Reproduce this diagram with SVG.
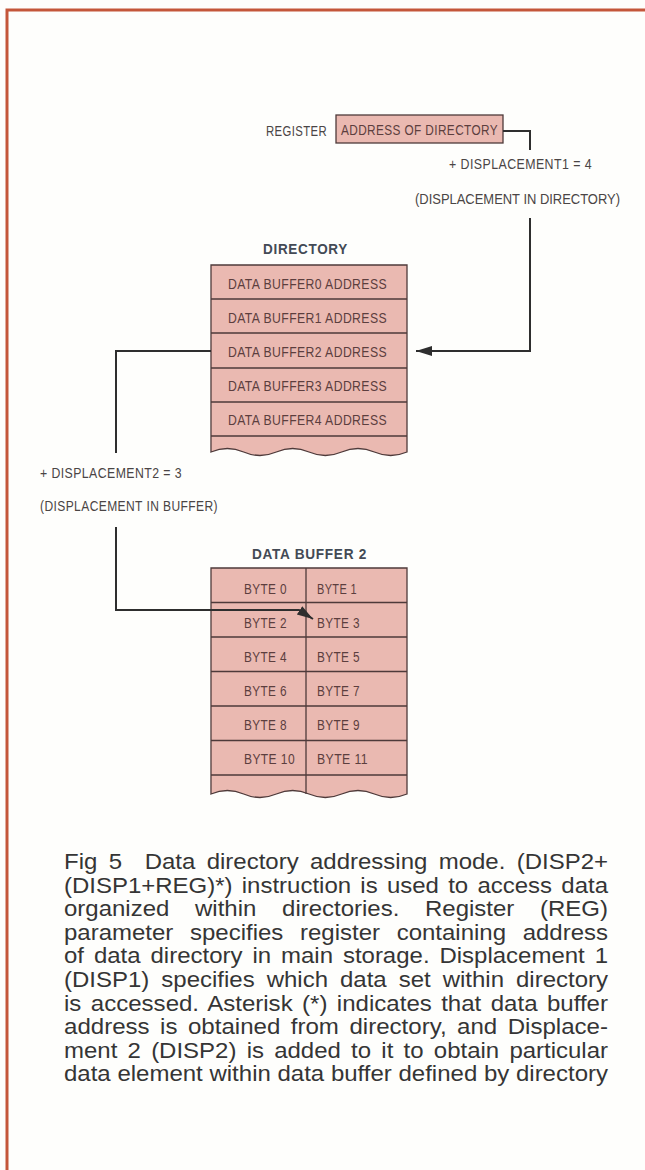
<svg xmlns="http://www.w3.org/2000/svg" width="645" height="1170" viewBox="0 0 645 1170">
<defs>
<style>
.lbl{font-family:"Liberation Sans Narrow","Liberation Sans",Arial,sans-serif;font-size:14.5px;fill:#4a4545;letter-spacing:0.5px}
.cell{font-family:"Liberation Sans Narrow","Liberation Sans",Arial,sans-serif;font-size:15px;fill:#5c3e3e;letter-spacing:0.5px}
.ttl{font-family:"Liberation Sans Narrow","Liberation Sans",Arial,sans-serif;font-size:15.5px;font-weight:bold;fill:#434a55;letter-spacing:0.8px}
.box{fill:#eab9b1;stroke:#4e3a3a;stroke-width:1.3}
.ln{fill:none;stroke:#4e3a3a;stroke-width:1.3}
.conn{fill:none;stroke:#2e2e2e;stroke-width:2}
.cap{font-family:"Liberation Sans",Arial,sans-serif;font-size:22px;fill:#353535}
</style>
<marker id="ah" markerUnits="userSpaceOnUse" markerWidth="17" markerHeight="11" refX="16" refY="5" orient="auto">
<path d="M0,0 L16,5 L0,10 Z" fill="#2e2e2e"/>
</marker>
</defs>
<rect x="0" y="0" width="645" height="1170" fill="#fefefc"/>
<path d="M7,1170 V10 H645" fill="none" stroke="#c4563a" stroke-width="3"/>

<g id="register">
<text class="lbl" x="266" y="135.5" textLength="61" lengthAdjust="spacingAndGlyphs">REGISTER</text>
<rect class="box" x="336" y="115" width="167" height="28"/>
<text class="cell" x="341" y="135" textLength="157" lengthAdjust="spacingAndGlyphs">ADDRESS OF DIRECTORY</text>
</g>

<g id="disp1-label">
<text class="lbl" x="449" y="168.5" textLength="143" lengthAdjust="spacingAndGlyphs">+ DISPLACEMENT1 = 4</text>
<text class="lbl" x="415" y="203.5" textLength="205" lengthAdjust="spacingAndGlyphs" style="letter-spacing:0;font-size:14px">(DISPLACEMENT IN DIRECTORY)</text>
</g>

<g id="directory">
<text class="ttl" x="263" y="254" textLength="85" lengthAdjust="spacingAndGlyphs">DIRECTORY</text>
<path class="box" d="M211,265 H407 V452 q-16.33,7 -32.67,0 t-32.67,0 t-32.67,0 t-32.67,0 t-32.67,0 t-32.67,0 Z"/>
<path class="ln" d="M211,299 H407 M211,333 H407 M211,368 H407 M211,402 H407 M211,436 H407"/>
<text class="cell" x="228" y="288.5" textLength="159" lengthAdjust="spacingAndGlyphs">DATA BUFFER0 ADDRESS</text>
<text class="cell" x="228" y="322.5" textLength="159" lengthAdjust="spacingAndGlyphs">DATA BUFFER1 ADDRESS</text>
<text class="cell" x="228" y="356.5" textLength="159" lengthAdjust="spacingAndGlyphs">DATA BUFFER2 ADDRESS</text>
<text class="cell" x="228" y="390.5" textLength="159" lengthAdjust="spacingAndGlyphs">DATA BUFFER3 ADDRESS</text>
<text class="cell" x="228" y="424.5" textLength="159" lengthAdjust="spacingAndGlyphs">DATA BUFFER4 ADDRESS</text>
</g>

<g id="disp2-label">
<text class="lbl" x="40" y="477.5" textLength="142" lengthAdjust="spacingAndGlyphs">+ DISPLACEMENT2 = 3</text>
<text class="lbl" x="40" y="510.5" textLength="178" lengthAdjust="spacingAndGlyphs">(DISPLACEMENT IN BUFFER)</text>
</g>

<g id="data-buffer-2">
<text class="ttl" x="252" y="558.5" textLength="115" lengthAdjust="spacingAndGlyphs">DATA BUFFER 2</text>
<path class="box" d="M211,568 H407 V794 q-16.33,7 -32.67,0 t-32.67,0 t-32.67,0 t-32.67,0 t-32.67,0 t-32.67,0 Z"/>
<path class="ln" d="M211,602.5 H407 M211,637 H407 M211,671.5 H407 M211,706 H407 M211,740.5 H407 M211,775 H407 M306,568 V794"/>
<text class="cell" x="244" y="593.5" textLength="43" lengthAdjust="spacingAndGlyphs">BYTE 0</text>
<text class="cell" x="317" y="593.5" textLength="40" lengthAdjust="spacingAndGlyphs">BYTE 1</text>
<text class="cell" x="244" y="627.5" textLength="43" lengthAdjust="spacingAndGlyphs">BYTE 2</text>
<text class="cell" x="317" y="627.5" textLength="43" lengthAdjust="spacingAndGlyphs">BYTE 3</text>
<text class="cell" x="244" y="661.5" textLength="43" lengthAdjust="spacingAndGlyphs">BYTE 4</text>
<text class="cell" x="317" y="661.5" textLength="43" lengthAdjust="spacingAndGlyphs">BYTE 5</text>
<text class="cell" x="244" y="695.5" textLength="43" lengthAdjust="spacingAndGlyphs">BYTE 6</text>
<text class="cell" x="317" y="695.5" textLength="43" lengthAdjust="spacingAndGlyphs">BYTE 7</text>
<text class="cell" x="244" y="729.5" textLength="43" lengthAdjust="spacingAndGlyphs">BYTE 8</text>
<text class="cell" x="317" y="729.5" textLength="43" lengthAdjust="spacingAndGlyphs">BYTE 9</text>
<text class="cell" x="244" y="763.5" textLength="51" lengthAdjust="spacingAndGlyphs">BYTE 10</text>
<text class="cell" x="317" y="763.5" textLength="51" lengthAdjust="spacingAndGlyphs">BYTE 11</text>
</g>

<g id="connectors">
<path class="conn" d="M503,131 H530 V150"/>
<path class="conn" d="M530,218 V351 H416" marker-end="url(#ah)"/>
<path class="conn" d="M211,351 H116 V453"/>
<path class="conn" d="M116,527 V610 H299 L313,619" marker-end="url(#ah)"/>
</g>

<g id="caption">
<text class="cap" x="64" y="869" textLength="544" lengthAdjust="spacingAndGlyphs" word-spacing="4.3" xml:space="preserve">Fig 5  Data directory addressing mode. (DISP2+</text>
<text class="cap" x="64" y="892.6" textLength="544" lengthAdjust="spacingAndGlyphs" word-spacing="2.4">(DISP1+REG)*) instruction is used to access data</text>
<text class="cap" x="64" y="916.2" textLength="544" lengthAdjust="spacingAndGlyphs" word-spacing="17.5">organized within directories. Register (REG)</text>
<text class="cap" x="64" y="939.8" textLength="544" lengthAdjust="spacingAndGlyphs" word-spacing="9.2">parameter specifies register containing address</text>
<text class="cap" x="64" y="963.4" textLength="544" lengthAdjust="spacingAndGlyphs" word-spacing="3">of data directory in main storage. Displacement 1</text>
<text class="cap" x="64" y="987" textLength="544" lengthAdjust="spacingAndGlyphs" word-spacing="4.9">(DISP1) specifies which data set within directory</text>
<text class="cap" x="64" y="1010.6" textLength="544" lengthAdjust="spacingAndGlyphs" word-spacing="2.5">is accessed. Asterisk (*) indicates that data buffer</text>
<text class="cap" x="64" y="1034.2" textLength="544" lengthAdjust="spacingAndGlyphs" word-spacing="3.5">address is obtained from directory, and Displace-</text>
<text class="cap" x="64" y="1057.8" textLength="544" lengthAdjust="spacingAndGlyphs" word-spacing="3.3">ment 2 (DISP2) is added to it to obtain particular</text>
<text class="cap" x="64" y="1081.4" textLength="544" lengthAdjust="spacingAndGlyphs">data element within data buffer defined by directory</text>
</g>
</svg>
